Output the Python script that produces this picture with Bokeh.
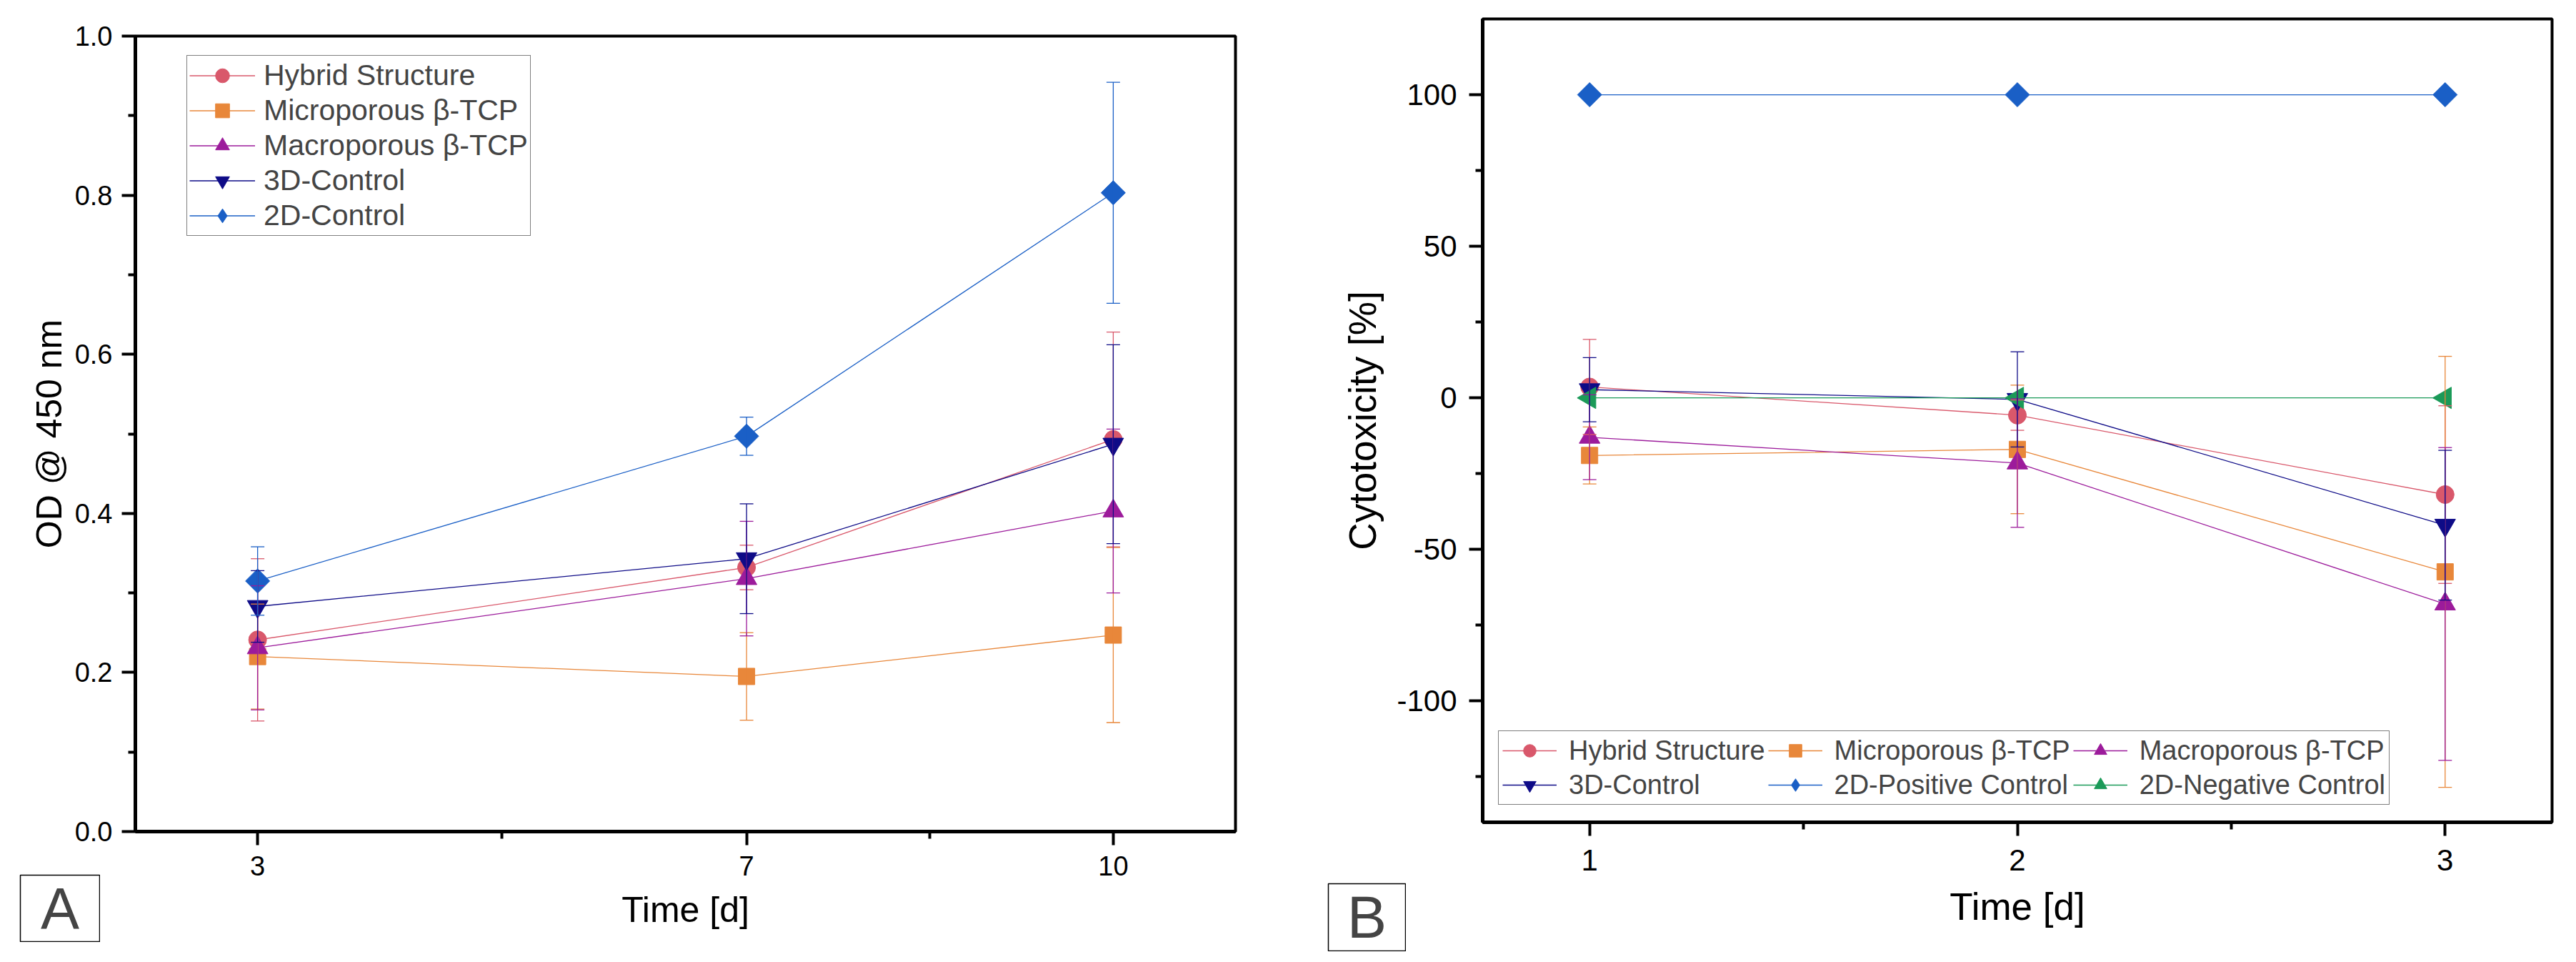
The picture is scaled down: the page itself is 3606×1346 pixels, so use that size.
import math
from bokeh.plotting import figure
from bokeh.models import (ColumnDataSource, Whisker, TeeHead, FixedTicker, PrintfTickFormatter,
                          Legend, LegendItem, Label, Range1d, GridBox, Spacer)
from bokeh.layouts import row, column
from bokeh.embed import file_html
from bokeh.resources import INLINE

FONT = "Liberation Sans"

# --- panel A: proliferation (OD @ 450 nm) ---
days_a = [3, 7, 10]
hybrid_a = [0.241, 0.332, 0.493]
hybrid_a_err = [0.102, 0.028, 0.135]
micro_a = [0.220, 0.195, 0.247]
micro_a_err = [0.066, 0.055, 0.110]
macro_a = [0.231, 0.318, 0.403]
macro_a_err = [0.078, 0.072, 0.103]
ctrl3d_a = [0.283, 0.343, 0.487]
ctrl3d_a_err = [0.045, 0.069, 0.125]
ctrl2d_a = [0.315, 0.497, 0.803]
ctrl2d_a_err = [0.043, 0.024, 0.139]

# --- panel B: cytotoxicity [%] ---
days_b = [1, 2, 3]
hybrid_b = [3.6, -5.7, -31.9]
hybrid_b_err = [15.7, 5.0, 29.3]
micro_b = [-19.0, -17.0, -57.4]
micro_b_err = [9.4, 21.2, 71.1]
macro_b = [-13.0, -21.5, -68.0]
macro_b_err = [14.0, 21.2, 51.6]
ctrl3d_b = [2.7, -0.5, -42.0]
ctrl3d_b_err = [10.6, 15.7, 24.7]
pos_b = [100, 100, 100]
pos_b_err = [0, 0, 0]
neg_b = [0, 0, 0]
neg_b_err = [0, 0, 0]

ticks_a_x = [3, 7, 10]
ticks_a_y = [0.0, 0.2, 0.4, 0.6, 0.8, 1.0]
ticks_b_x = [1, 2, 3]
ticks_b_y = [-100, -50, 0, 50, 100]

# colour, marker, size, angle  (diamonds are rotated squares, as in Origin)
STYLE = {
    "Hybrid Structure": ("#D9586B", "circle", 25, 0),
    "Microporous β-TCP": ("#E8873A", "square", 23, 0),
    "Macroporous β-TCP": ("#9C1B9B", "triangle", 29, 0),
    "3D-Control": ("#0E0B87", "inverted_triangle", 29, 0),
    "2D-Control": ("#1A5FC6", "square", 24, math.pi / 4),
    "2D-Positive Control": ("#1A5FC6", "square", 24, math.pi / 4),
    "2D-Negative Control": ("#1B9A58", "triangle", 30, math.pi / 2),
}


def add_series(p, x, y, err, name):
    color, marker, size, angle = STYLE[name]
    src = ColumnDataSource(dict(x=x, y=y,
                                lo=[a - b for a, b in zip(y, err)],
                                hi=[a + b for a, b in zip(y, err)]))
    line = p.line("x", "y", source=src, line_color=color, line_width=1.3)
    if any(err):
        w = Whisker(base="x", upper="hi", lower="lo", source=src, level="glyph",
                    line_color=color, line_width=1.3,
                    upper_head=TeeHead(size=19, line_color=color, line_width=1.3),
                    lower_head=TeeHead(size=19, line_color=color, line_width=1.3))
        p.add_layout(w)
    legend_pts = None
    if angle == math.pi / 4:
        # the legend ignores marker angles: a plain diamond sits under the
        # rotated square so the legend still shows a diamond
        legend_pts = p.scatter("x", "y", source=src, marker="diamond", size=32,
                               fill_color=color, line_color=color)
    pts = p.scatter("x", "y", source=src, marker=marker, size=size, angle=angle,
                    fill_color=color, line_color=color)
    return LegendItem(label=name, renderers=[line, legend_pts or pts])


def make_fig(width, borders, xr, yr, xticks, xminor, yticks, yminor, yfmt,
             ylabel, tick_size, label_size, stand):
    left, right, top, bottom = borders
    p = figure(width=width, height=1330, output_backend="svg", toolbar_location=None,
               tools="", x_range=Range1d(*xr), y_range=Range1d(*yr),
               min_border_left=left, min_border_right=right,
               min_border_top=top, min_border_bottom=bottom)
    p.grid.visible = False
    p.outline_line_color = "black"
    p.outline_line_width = 4
    p.outline_line_alpha = 1
    p.xaxis.ticker = FixedTicker(ticks=xticks, minor_ticks=xminor)
    p.yaxis.ticker = FixedTicker(ticks=yticks, minor_ticks=yminor)
    p.xaxis.formatter = PrintfTickFormatter(format="%d")
    p.yaxis.formatter = PrintfTickFormatter(format=yfmt)
    p.xaxis.axis_label = "Time [d]"
    p.yaxis.axis_label = ylabel
    for ax in (p.xaxis, p.yaxis):
        ax.axis_line_width = 5
        ax.major_tick_line_width = 4
        ax.minor_tick_line_width = 4
        ax.major_tick_out = 19
        ax.major_tick_in = 0
        ax.minor_tick_out = 10
        ax.minor_tick_in = 0
        ax.major_label_text_font = FONT
        ax.major_label_text_font_size = tick_size
        ax.major_label_text_color = "black"
        ax.axis_label_text_font = FONT
        ax.axis_label_text_font_style = "normal"
        ax.axis_label_text_font_size = label_size
        ax.axis_label_text_color = "black"
    p.xaxis.major_label_standoff = stand[0]
    p.xaxis.axis_label_standoff = stand[1]
    p.yaxis.major_label_standoff = stand[2]
    p.yaxis.axis_label_standoff = stand[3]
    return p


def panel_tag(text, w, h, size):
    # small boxed panel letter, overlaid on the figure's bottom-left corner
    t = figure(width=w + 2, height=h + 2, output_backend="svg", toolbar_location=None,
               tools="", x_axis_type=None, y_axis_type=None, min_border=1,
               x_range=Range1d(0, 1), y_range=Range1d(0, 1))
    t.grid.visible = False
    t.outline_line_color = "black"
    t.outline_line_width = 1.5
    t.border_fill_alpha = 0
    t.add_layout(Label(x=0.5, y=0.5, text=text, text_font=FONT, text_font_size=size,
                       text_align="center", text_baseline="middle"))
    return t


# ---------- panel A ----------
pa = make_fig(1868, (189, 139, 50, 167), (2, 11), (0, 1), ticks_a_x, [5, 8.5],
              ticks_a_y, [0.1, 0.3, 0.5, 0.7, 0.9], "%.1f", "OD @ 450 nm",
              "38px", "50px", (15, 17, 13, 5))
items_a = [
    add_series(pa, days_a, hybrid_a, hybrid_a_err, "Hybrid Structure"),
    add_series(pa, days_a, micro_a, micro_a_err, "Microporous β-TCP"),
    add_series(pa, days_a, macro_a, macro_a_err, "Macroporous β-TCP"),
    add_series(pa, days_a, ctrl3d_a, ctrl3d_a_err, "3D-Control"),
    add_series(pa, days_a, ctrl2d_a, ctrl2d_a_err, "2D-Control"),
]
leg_a = Legend(items=items_a, location=(72, 833), orientation="vertical",
               label_text_font=FONT, label_text_font_size="41px",
               glyph_width=92, glyph_height=49, label_height=49, label_standoff=12,
               padding=3, spacing=0, margin=0,
               border_line_color="black", border_line_width=1.5,
               background_fill_color="white", background_fill_alpha=1)
pa.add_layout(leg_a)

# ---------- panel B ----------
pb = make_fig(1730, (207, 26, 26, 180), (0.75, 3.25), (-140, 125), ticks_b_x, [1.5, 2.5],
              ticks_b_y, [-125, -75, -25, 25, 75], "%d", "Cytotoxicity [%]",
              "42px", "53px", (19, 18, 17, 15))
items_b = [
    add_series(pb, days_b, hybrid_b, hybrid_b_err, "Hybrid Structure"),
    add_series(pb, days_b, micro_b, micro_b_err, "Microporous β-TCP"),
    add_series(pb, days_b, macro_b, macro_b_err, "Macroporous β-TCP"),
    add_series(pb, days_b, ctrl3d_b, ctrl3d_b_err, "3D-Control"),
    add_series(pb, days_b, pos_b, pos_b_err, "2D-Positive Control"),
    add_series(pb, days_b, neg_b, neg_b_err, "2D-Negative Control"),
]
leg_b = Legend(items=items_b, location=(22, 24), orientation="horizontal", ncols=3,
               label_text_font=FONT, label_text_font_size="38px",
               glyph_width=76, glyph_height=44, label_height=44, label_standoff=17,
               padding=5, spacing=4, margin=0,
               border_line_color="black", border_line_width=1.5,
               background_fill_color="white", background_fill_alpha=1)
pb.add_layout(leg_b)

# panel letters sit outside the frames, so they are overlaid in the same grid cells
tag_a = column(Spacer(width=1, height=1223), row(Spacer(width=27, height=1), panel_tag("A", 111, 93, "81px")))
tag_b = column(Spacer(width=1, height=1235), row(Spacer(width=1858, height=1), panel_tag("B", 108, 94, "83px")))

layout = GridBox(children=[(column(pa), 0, 0), (column(pb), 0, 1),
                           (tag_a, 0, 0, 1, 2), (tag_b, 0, 0, 1, 2)], spacing=0)
open("out.html", "w").write(file_html(layout, INLINE))
